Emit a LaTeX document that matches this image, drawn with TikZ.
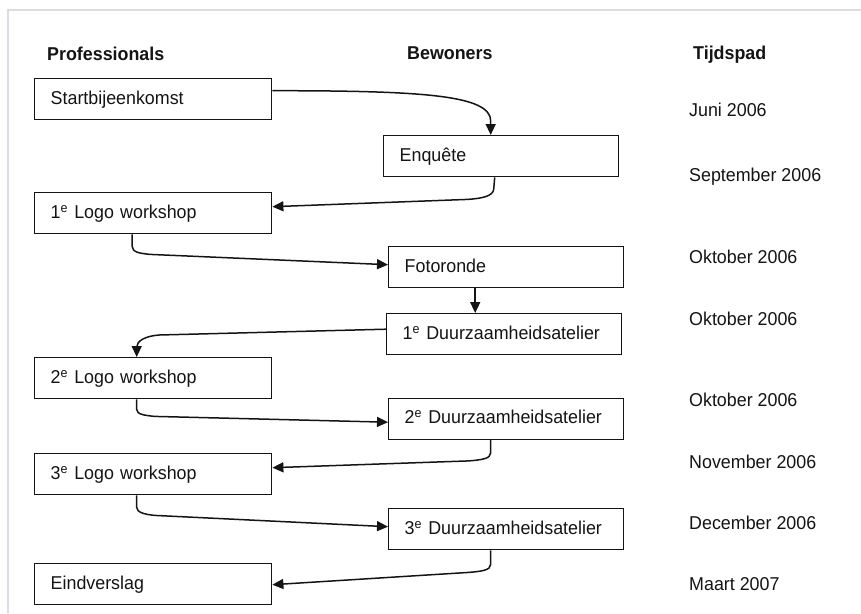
\documentclass[tikz,border=0pt]{standalone}
\usepackage{fontspec}
\setmainfont{Liberation Sans}[FakeStretch=0.96]
\usetikzlibrary{arrows.meta,calc}
\definecolor{ink}{HTML}{141414}
\definecolor{framecol}{HTML}{DCDCE4}
\begin{document}
\begin{tikzpicture}[x=1pt,y=-1pt,
  every node/.style={font=\fontsize{18.6}{22}\selectfont, text=ink},
  lbox/.style={draw=ink, line width=1.4pt, anchor=north west, minimum height=41pt,
    inner xsep=16pt, inner ysep=0pt, text width=205pt, align=left,
    text height=13.5pt, text depth=3pt},
  mbox/.style={lbox, text width=203pt},
  hdr/.style={anchor=base west, inner sep=0pt, font=\fontsize{18.6}{22}\selectfont\bfseries},
  datelbl/.style={anchor=base west, inner sep=0pt},
  conn/.style={draw=ink, line width=1.5pt, -{Triangle[length=11pt,width=10pt]}}
]
\path[use as bounding box] (0,0) rectangle (861,613);
\draw[framecol, line width=1.5pt] (861,10) -- (8,10) -- (8,613);

% headers
\node[hdr] (hprof) at (47,60) {Professionals};
\node[hdr] (hbew) at (407,59) {Bewoners};
\node[hdr] (htijd) at (693,59) {Tijdspad};

% left column
\node[lbox] (start) at (34,78) {Startbijeenkomst};
\node[lbox] (logo1) at (34,192) {1\textsuperscript{e} Logo workshop};
\node[lbox] (logo2) at (34,357) {2\textsuperscript{e} Logo workshop};
\node[lbox] (logo3) at (34,453) {3\textsuperscript{e} Logo workshop};
\node[lbox] (eind) at (34,563) {Eindverslag};

% middle column
\node[mbox] (enq) at (383,135) {Enquête};
\node[mbox] (foto) at (388,246) {Fotoronde};
\node[mbox] (d1) at (386,313) {1\textsuperscript{e} Duurzaamheidsatelier};
\node[mbox] (d2) at (388,397.5) {2\textsuperscript{e} Duurzaamheidsatelier};
\node[mbox] (d3) at (388,508) {3\textsuperscript{e} Duurzaamheidsatelier};

% dates
\node[datelbl] (t1) at (689,116) {Juni 2006};
\node[datelbl] (t2) at (689,181.7) {September 2006};
\node[datelbl] (t3) at (689,263.3) {Oktober 2006};
\node[datelbl] (t4) at (689,325) {Oktober 2006};
\node[datelbl] (t5) at (689,406.7) {Oktober 2006};
\node[datelbl] (t6) at (689,468.3) {November 2006};
\node[datelbl] (t7) at (689,529.3) {December 2006};
\node[datelbl] (t8) at (689,590.7) {Maart 2007};

% connectors
\draw[conn] ($(start.east)+(0,-8.5)$) .. controls +(150,0) and +(0,-26) .. ($(enq.north)+(-10.5,-14)$) -- ($(enq.north)+(-10.5,0)$);
\draw[conn] ($(enq.south)+(-6.5,0)$) -- ++(-1,12) .. controls +(-1,7) and +(14,-1) .. ++(-26,10) -- ($(logo1.east)+(0,-6.5)$);
\draw[conn] ($(logo1.south)+(-21,0)$) -- ++(0,12) .. controls +(0,6) and +(-10,-1) .. ++(18,8) -- ($(foto.west)+(0,-2.5)$);
\draw[conn] ($(foto.south)+(-31,0)$) -- ($(d1.north)+(-29,0)$);
\draw[conn] ($(d1.west)+(0,-5)$) -- ($(logo2.north)+(6,-22)$) .. controls +(-14,1) and +(0,-6) .. ($(logo2.north)+(-16.5,-10)$) -- ($(logo2.north)+(-16.5,0)$);
\draw[conn] ($(logo2.south)+(-16.5,0)$) -- ++(0,10) .. controls +(0,5) and +(-10,-1) .. ++(18,7) -- ($(d2.west)+(0,3.5)$);
\draw[conn] ($(d2.south)+(-15.5,0)$) -- ++(0,13) .. controls +(0,6) and +(12,-1) .. ++(-22,8) -- ($(logo3.east)+(0,-6.5)$);
\draw[conn] ($(logo3.south)+(-16.5,0)$) -- ++(0,12) .. controls +(0,5) and +(-10,-1) .. ++(18,8) -- ($(d3.west)+(0,-2.5)$);
\draw[conn] ($(d3.south)+(-15.5,0)$) -- ++(0,14) .. controls +(0,6) and +(12,-1) .. ++(-22,8) -- ($(eind.east)+(0,0.5)$);
\end{tikzpicture}
\end{document}
